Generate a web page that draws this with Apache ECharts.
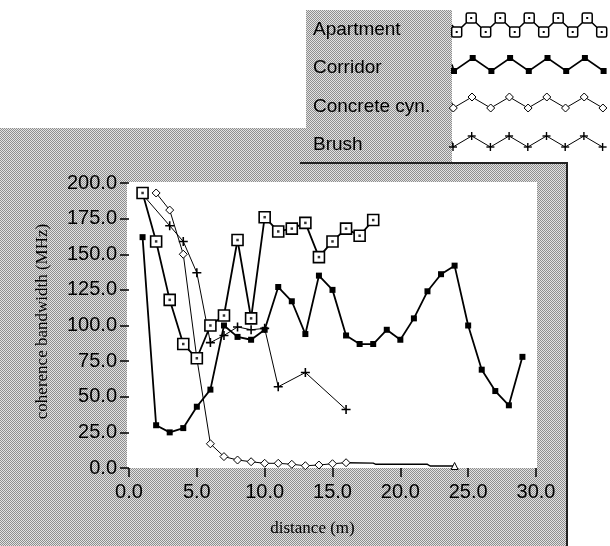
<!DOCTYPE html>
<html>
<head>
<meta charset="utf-8">
<script src="https://cdn.jsdelivr.net/npm/echarts@6/dist/echarts.min.js"></script>
<style>
html, body { margin: 0; padding: 0; background: #fff; }
#chart { width: 610px; height: 546px; }
</style>
</head>
<body>
<div id="chart"></div>
<script>
// series names (legend order)
const names = ['Apartment', 'Corridor', 'Concrete cyn.', 'Brush'];
// [distance (m), coherence bandwidth (MHz)]
const apartment = [[1, 193], [2, 159], [3, 118], [4, 87], [5, 77], [6, 100], [7, 107], [8, 160], [9, 105],
  [10, 176], [11, 166], [12, 168], [13, 172], [14, 148], [15, 159], [16, 168], [17, 163], [18, 174]];
const corridor = [[1, 162], [2, 30], [3, 25], [4, 28], [5, 43], [6, 55], [7, 100], [8, 92], [9, 90], [10, 97],
  [11, 127], [12, 117], [13, 94], [14, 135], [15, 125], [16, 93], [17, 87], [18, 87], [19, 97], [20, 90],
  [21, 105], [22, 124], [23, 136], [24, 142], [25, 100], [26, 69], [27, 54], [28, 44], [29, 78]];
const concrete = [[2, 193], [3, 181], [4, 150], [5, 77], [6, 17], [7, 8], [8, 5.6], [9, 4.4], [10, 3.3],
  [11, 3.3], [12, 2.6], [13, 1.6], [14, 2.1], [15, 3], [16, 3.7]];
const concreteTail = [[16, 3.7], [18, 3.4], [18.2, 2.6], [22, 2.6], [22.2, 1.4], [24, 1.4]];
const brush = [[1, 192], [3, 170], [4, 159], [5, 137], [6, 88], [7, 93], [8, 99], [9, 97], [10, 98],
  [11, 57], [13, 67], [16, 41]];
const xTicks = [0, 5, 10, 15, 20, 25, 30];
const yTicks = [0, 25, 50, 75, 100, 125, 150, 175, 200];

const chart = echarts.init(document.getElementById('chart'));

// grey dither like the old LabVIEW panel
function makeDither() {
  const c = document.createElement('canvas');
  c.width = 2; c.height = 2;
  const g = c.getContext('2d');
  g.fillStyle = '#e2e2e2'; g.fillRect(0, 0, 2, 2);
  g.fillStyle = '#8e8e8e'; g.fillRect(0, 0, 1, 1); g.fillRect(1, 1, 1, 1);
  return c;
}
const dither = { image: makeDither(), repeat: 'repeat' };

const font = 'Liberation Sans';
const plusSym = 'path://M3.3,0H4.7V3.3H8V4.7H4.7V8H3.3V4.7H0V3.3H3.3Z';

// legend swatches: zigzag line with markers
function swatch(x0, step, yLow, yHigh, kind) {
  const pts = [];
  for (let x = x0, k = 0; x < 612; x += step, k++) pts.push([x, k % 2 ? yHigh : yLow]);
  const els = [{
    type: 'polyline', z: 6, shape: { points: [[452, pts[0][1] - (yLow - yHigh) / 2]].concat(pts) },
    style: { stroke: '#000', lineWidth: kind === 'brush' || kind === 'concrete' ? 1 : 1.6, fill: null }
  }];
  pts.forEach(p => {
    if (kind === 'apartment') {
      els.push({ type: 'rect', z: 7, shape: { x: p[0] - 5, y: p[1] - 5, width: 10, height: 10, r: 1.5 },
        style: { fill: '#fff', stroke: '#000', lineWidth: 1.5 } });
      els.push({ type: 'rect', z: 8, shape: { x: p[0] - 1, y: p[1] - 1, width: 2, height: 2 }, style: { fill: '#000' } });
    } else if (kind === 'corridor') {
      els.push({ type: 'rect', z: 7, shape: { x: p[0] - 3, y: p[1] - 3, width: 6, height: 6 }, style: { fill: '#000' } });
    } else if (kind === 'concrete') {
      els.push({ type: 'polygon', z: 7, shape: { points: [[p[0], p[1] - 4], [p[0] + 4, p[1]], [p[0], p[1] + 4], [p[0] - 4, p[1]]] },
        style: { fill: '#fff', stroke: '#000', lineWidth: 1 } });
    } else {
      els.push({ type: 'rect', z: 7, shape: { x: p[0] - 4, y: p[1] - 0.7, width: 8, height: 1.4 }, style: { fill: '#000' } });
      els.push({ type: 'rect', z: 7, shape: { x: p[0] - 0.7, y: p[1] - 4, width: 1.4, height: 8 }, style: { fill: '#000' } });
    }
  });
  return els;
}

const graphic = [
  // main grey panel
  { type: 'rect', z: -10, shape: { x: 0, y: 128, width: 568, height: 418 }, style: { fill: dither } },
  { type: 'rect', z: -9, shape: { x: 566, y: 163, width: 2, height: 383 }, style: { fill: '#222' } },
  // white plot area
  { type: 'rect', z: -8, shape: { x: 127, y: 182, width: 410, height: 286 }, style: { fill: '#fff' } },
  // legend box
  { type: 'rect', z: 4, shape: { x: 306, y: 10, width: 146, height: 153 }, style: { fill: dither } },
  { type: 'rect', z: 4, shape: { x: 452, y: 10, width: 158, height: 152 }, style: { fill: '#fff' } },
  { type: 'rect', z: 5, shape: { x: 300, y: 162, width: 268, height: 2 }, style: { fill: '#222' } }
];
names.forEach((n, i) => {
  graphic.push({ type: 'text', z: 6, x: 313, y: [30, 68, 107, 145][i],
    style: { text: n, font: '19px "' + font + '"', fill: '#000', textVerticalAlign: 'middle' } });
});
graphic.push(...swatch(456.7, 14.5, 32, 18, 'apartment'));
graphic.push(...swatch(454, 18.7, 71, 58, 'corridor'));
graphic.push(...swatch(453.3, 18.7, 108, 97, 'concrete'));
graphic.push(...swatch(453, 18.7, 147, 136, 'brush'));

const tailData = concreteTail.map((p, i) =>
  i === concreteTail.length - 1 ? { value: p, symbol: 'triangle', symbolSize: 7 } : { value: p, symbol: 'none' });

const option = {
  animation: false,
  grid: { left: 129, right: 74, top: 183, bottom: 78 },
  xAxis: {
    type: 'value', min: xTicks[0], max: xTicks[xTicks.length - 1], interval: 5,
    name: 'distance (m)', nameLocation: 'middle', nameGap: 52,
    nameTextStyle: { fontFamily: 'Liberation Serif', fontSize: 17, color: '#000', padding: [0, 40, 0, 0] },
    axisLine: { show: false },
    axisTick: { show: true, length: 9, lineStyle: { color: '#000', width: 1.5 } },
    axisLabel: { color: '#000', fontFamily: font, fontSize: 20, margin: 14, formatter: v => v.toFixed(1) },
    splitLine: { show: false }
  },
  yAxis: {
    type: 'value', min: yTicks[0], max: yTicks[yTicks.length - 1], interval: 25,
    name: 'coherence bandwidth (MHz)', nameLocation: 'middle', nameGap: 78, nameRotate: 90,
    nameTextStyle: { fontFamily: 'Liberation Serif', fontSize: 17, color: '#000', padding: [0, 0, 0, 8] },
    axisLine: { show: false },
    axisTick: { show: true, length: 9, lineStyle: { color: '#000', width: 1.5 } },
    axisLabel: { color: '#000', fontFamily: font, fontSize: 20, margin: 12, formatter: v => v.toFixed(1) },
    splitLine: { show: false }
  },
  graphic: graphic,
  series: [
    {
      name: names[1], type: 'line', data: corridor, symbol: 'rect', symbolSize: 6,
      lineStyle: { color: '#000', width: 1.8 }, itemStyle: { color: '#000' }, z: 3
    },
    {
      name: names[3], type: 'line', data: brush, symbol: plusSym, symbolSize: 9,
      lineStyle: { color: '#000', width: 1 }, itemStyle: { color: '#000' }, z: 3
    },
    {
      name: names[2] + ' tail', type: 'line', data: tailData,
      lineStyle: { color: '#000', width: 1.4 }, itemStyle: { color: '#fff', borderColor: '#000', borderWidth: 1 }, z: 3
    },
    {
      name: names[2], type: 'line', data: concrete, symbol: 'diamond', symbolSize: 8,
      lineStyle: { color: '#000', width: 1 }, itemStyle: { color: '#fff', borderColor: '#000', borderWidth: 1 }, z: 4
    },
    {
      name: names[0], type: 'line', data: apartment, symbol: 'rect', symbolSize: 11,
      lineStyle: { color: '#000', width: 1.8 }, itemStyle: { color: '#fff', borderColor: '#000', borderWidth: 1.6 }, z: 5
    },
    {
      name: names[0] + ' dot', type: 'scatter', data: apartment, symbol: 'rect', symbolSize: 2.5,
      itemStyle: { color: '#000' }, z: 6
    }
  ]
};
chart.setOption(option);
</script>
</body>
</html>
